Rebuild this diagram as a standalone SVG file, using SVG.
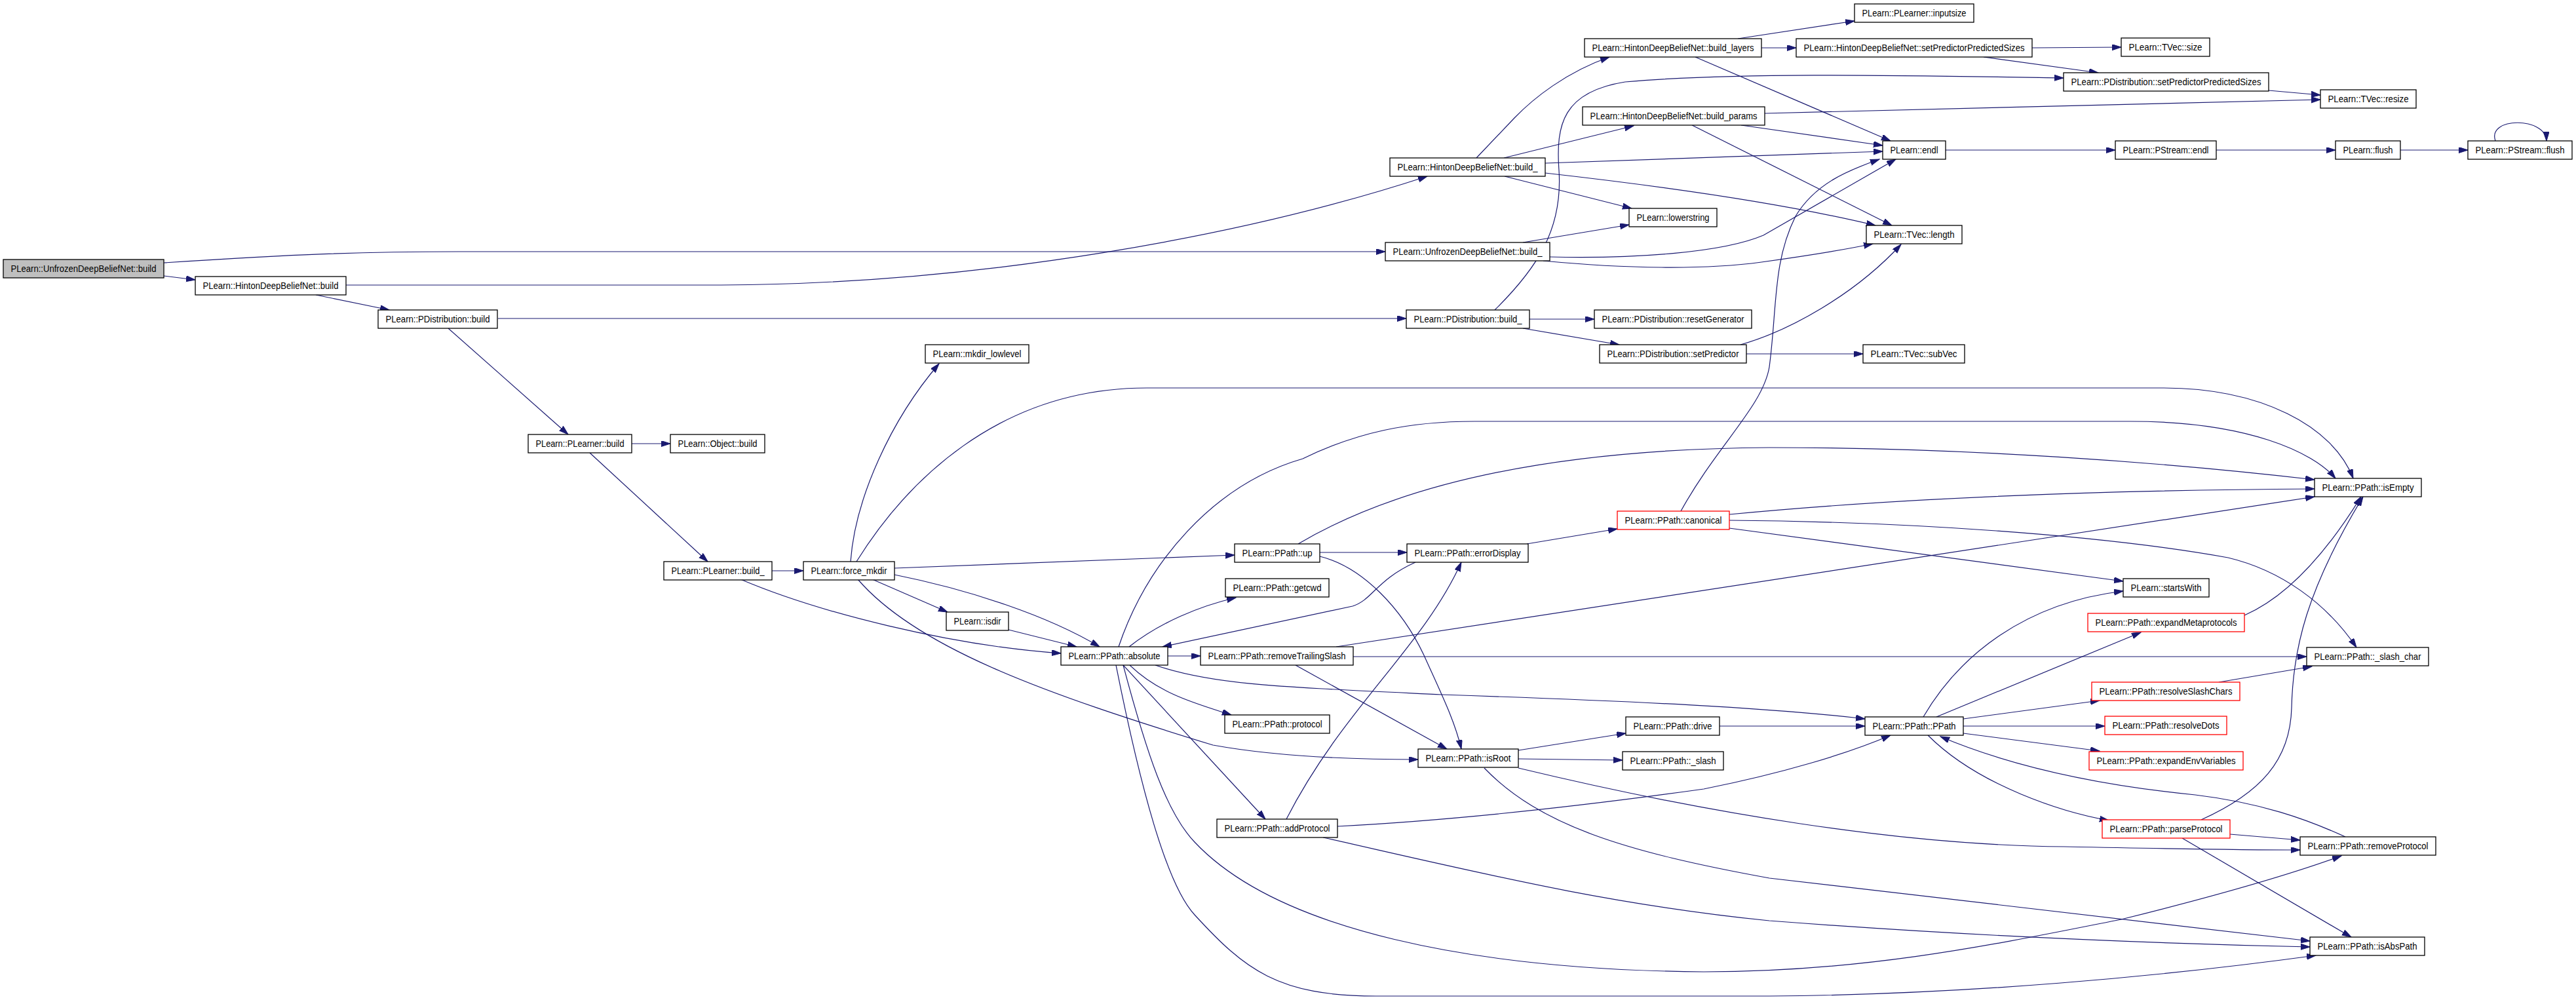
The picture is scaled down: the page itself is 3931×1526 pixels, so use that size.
<svg xmlns="http://www.w3.org/2000/svg" width="3931" height="1526" viewBox="0 0 3931 1526">
<style>
.n rect{fill:#fff;stroke:#000;stroke-width:1.3}
.n.r rect{stroke:#ff0000}
.n.g rect{fill:#bfbfbf}
.n text{font-family:"Liberation Sans",Arial,sans-serif;font-size:15px;fill:#000;text-anchor:middle}
#edges path{fill:none;stroke:#191970;stroke-width:1.2;marker-end:url(#a)}
</style>
<defs>
<marker id="a" markerWidth="16" markerHeight="12" refX="14" refY="4.5" orient="auto" markerUnits="userSpaceOnUse"><path d="M0,0 L14,4.5 L0,9 z" fill="#191970" stroke="#191970" stroke-width="1"/></marker>
</defs>
<rect width="3931" height="1526" fill="#fff"/>
<g id="edges">
<path d="M250,421 L298,427"/>
<path d="M250,401 C450,388 550,384 700,384 L2114,384"/>
<path d="M528,435 L1100,435 C1500,433 1900,360 2178,269"/>
<path d="M482,450 L594,473"/>
<path d="M760,486 L2146,486"/>
<path d="M684,501 L867,663"/>
<path d="M964,677 L1023,677"/>
<path d="M900,691 L1080,857"/>
<path d="M1178,871 L1226,871"/>
<path d="M1130,884 C1250,935 1450,985 1619,997"/>
<path d="M1298,857 C1305,760 1360,640 1433,555"/>
<path d="M1307,857 C1380,740 1520,592 1750,592 L3300,592 C3450,592 3560,650 3591,730"/>
<path d="M1365,867 L1884,847"/>
<path d="M1331,884 L1446,934"/>
<path d="M1365,877 C1480,900 1600,940 1678,987"/>
<path d="M1309,884 C1400,990 1600,1060 1851,1137 C1950,1155 2060,1159 2164,1159"/>
<path d="M1539,961 L1643,987"/>
<path d="M1723,987 C1770,950 1830,925 1886,912"/>
<path d="M1782,1001 L1832,1001"/>
<path d="M1724,1015 C1770,1060 1830,1075 1879,1091"/>
<path d="M1714,1015 L1931,1250"/>
<path d="M1707,987 C1750,860 1850,740 1988,700 C2070,660 2150,643 2250,643 L3250,643 C3430,643 3530,690 3564,730"/>
<path d="M1763,1015 C1850,1045 1950,1048 2200,1060 C2500,1070 2700,1080 2846,1097"/>
<path d="M1714,1015 C1750,1150 1780,1240 1823,1285 C1950,1420 2250,1480 2600,1483 C2850,1483 3050,1440 3237,1403 C3350,1375 3480,1340 3573,1306"/>
<path d="M1703,1015 C1740,1200 1780,1350 1823,1396 C1900,1480 1950,1520 2100,1520 L2700,1520 C3000,1518 3300,1490 3534,1458"/>
<path d="M2160,858 C2100,885 2095,915 2064,925 L1774,987"/>
<path d="M2014,843 L2147,843"/>
<path d="M2014,849 C2080,865 2140,930 2173,1000 C2200,1060 2220,1100 2230,1143"/>
<path d="M1981,830 C2150,730 2400,685 2700,683 C3000,683 3300,705 3532,732"/>
<path d="M2039,987 L3532,758"/>
<path d="M2065,1002 L3520,1002"/>
<path d="M1977,1015 L2208,1143"/>
<path d="M2330,830 L2468,807"/>
<path d="M2565,780 C2620,680 2690,620 2700,560 C2712,470 2705,400 2740,330 C2770,280 2820,260 2868,243"/>
<path d="M2639,785 C2900,760 3200,748 3532,746"/>
<path d="M2639,806 L3240,887"/>
<path d="M2639,794 C2900,796 3200,815 3400,851 C3480,870 3550,920 3596,988"/>
<path d="M2935,1094 C2990,1000 3090,920 3240,902"/>
<path d="M2955,1094 L3267,965"/>
<path d="M2996,1097 L3204,1069"/>
<path d="M2996,1108 L3212,1108"/>
<path d="M2996,1119 L3204,1146"/>
<path d="M2942,1122 C3020,1200 3150,1240 3218,1252"/>
<path d="M3579,1277 C3520,1250 3450,1225 3350,1213 C3200,1198 3070,1170 2961,1124"/>
<path d="M3403,1273 L3510,1282"/>
<path d="M3330,1279 L3588,1430"/>
<path d="M3359,1251 C3450,1210 3495,1160 3497,1080 C3499,990 3520,900 3606,758"/>
<path d="M3425,939 C3480,915 3540,860 3603,758"/>
<path d="M3386,1041 L3528,1017"/>
<path d="M2624,1108 L2846,1108"/>
<path d="M2317,1145 L2481,1119"/>
<path d="M2317,1158 L2476,1160"/>
<path d="M2317,1172 C2600,1240 2900,1290 3150,1292 C3300,1295 3420,1297 3510,1297"/>
<path d="M2265,1172 C2350,1260 2480,1300 2700,1340 C2900,1365 3200,1400 3525,1436"/>
<path d="M2041,1261 C2250,1250 2450,1225 2600,1204 C2720,1180 2820,1150 2885,1122"/>
<path d="M2019,1278 C2250,1330 2450,1380 2700,1405 C3000,1428 3300,1440 3525,1445"/>
<path d="M1963,1250 C2050,1080 2170,990 2230,858"/>
<path d="M2253,241 L2311,180 C2340,150 2390,110 2456,87"/>
<path d="M2295,241 L2493,192"/>
<path d="M2358,249 L2873,231"/>
<path d="M2358,264 C2500,280 2700,305 2862,344"/>
<path d="M2296,269 L2490,318"/>
<path d="M2324,370 L2486,343"/>
<path d="M2365,392 C2500,395 2630,385 2691,359 L2893,243"/>
<path d="M2355,398 C2480,410 2600,412 2688,400 C2760,390 2820,380 2858,372"/>
<path d="M2652,59 L2830,32"/>
<path d="M2688,73 L2741,73"/>
<path d="M2587,87 L2885,215"/>
<path d="M3101,73 L3237,72"/>
<path d="M3027,87 L3202,111"/>
<path d="M3462,138 L3541,145"/>
<path d="M2693,173 L3541,152"/>
<path d="M2657,191 L2873,222"/>
<path d="M2582,191 L2887,344"/>
<path d="M2281,473 C2345,410 2385,350 2379,260 C2374,190 2385,140 2480,125 C2650,110 2900,115 3149,119"/>
<path d="M2334,487 L2433,487"/>
<path d="M2324,501 L2471,526"/>
<path d="M2665,540 L2843,540"/>
<path d="M2656,526 C2730,505 2830,450 2901,373"/>
<path d="M2969,229 L3228,229"/>
<path d="M3382,229 L3564,229"/>
<path d="M3663,229 L3766,229"/>
<path d="M3808,215 C3795,178 3885,178 3886,215"/>
</g>
<g id="n1" class="n g"><rect x="5" y="396" width="245" height="28"/><text x="127.5" y="415" textLength="222" lengthAdjust="spacingAndGlyphs">PLearn::UnfrozenDeepBeliefNet::build</text></g>
<g id="n2" class="n"><rect x="298" y="422" width="230" height="28"/><text x="413" y="441" textLength="207" lengthAdjust="spacingAndGlyphs">PLearn::HintonDeepBeliefNet::build</text></g>
<g id="n3" class="n"><rect x="577" y="473" width="182" height="28"/><text x="668" y="492" textLength="159" lengthAdjust="spacingAndGlyphs">PLearn::PDistribution::build</text></g>
<g id="n4" class="n"><rect x="806" y="663" width="158" height="28"/><text x="885" y="682" textLength="135" lengthAdjust="spacingAndGlyphs">PLearn::PLearner::build</text></g>
<g id="n5" class="n"><rect x="1023" y="663" width="144" height="28"/><text x="1095" y="682" textLength="121" lengthAdjust="spacingAndGlyphs">PLearn::Object::build</text></g>
<g id="n6" class="n"><rect x="1013" y="857" width="165" height="28"/><text x="1095.5" y="876" textLength="142" lengthAdjust="spacingAndGlyphs">PLearn::PLearner::build_</text></g>
<g id="n7" class="n"><rect x="1226" y="857" width="139" height="28"/><text x="1295.5" y="876" textLength="116" lengthAdjust="spacingAndGlyphs">PLearn::force_mkdir</text></g>
<g id="n8" class="n"><rect x="1412" y="526" width="158" height="28"/><text x="1491" y="545" textLength="135" lengthAdjust="spacingAndGlyphs">PLearn::mkdir_lowlevel</text></g>
<g id="n9" class="n"><rect x="1444" y="934" width="95" height="28"/><text x="1491.5" y="953" textLength="72" lengthAdjust="spacingAndGlyphs">PLearn::isdir</text></g>
<g id="n10" class="n"><rect x="1619" y="987" width="163" height="28"/><text x="1700.5" y="1006" textLength="140" lengthAdjust="spacingAndGlyphs">PLearn::PPath::absolute</text></g>
<g id="n11" class="n"><rect x="1884" y="830" width="130" height="28"/><text x="1949" y="849" textLength="107" lengthAdjust="spacingAndGlyphs">PLearn::PPath::up</text></g>
<g id="n12" class="n"><rect x="1870" y="883" width="158" height="28"/><text x="1949" y="902" textLength="135" lengthAdjust="spacingAndGlyphs">PLearn::PPath::getcwd</text></g>
<g id="n13" class="n"><rect x="1832" y="987" width="233" height="28"/><text x="1948.5" y="1006" textLength="210" lengthAdjust="spacingAndGlyphs">PLearn::PPath::removeTrailingSlash</text></g>
<g id="n14" class="n"><rect x="1869" y="1091" width="160" height="28"/><text x="1949" y="1110" textLength="137" lengthAdjust="spacingAndGlyphs">PLearn::PPath::protocol</text></g>
<g id="n15" class="n"><rect x="2164" y="1143" width="153" height="28"/><text x="2240.5" y="1162" textLength="130" lengthAdjust="spacingAndGlyphs">PLearn::PPath::isRoot</text></g>
<g id="n16" class="n"><rect x="1857" y="1250" width="184" height="28"/><text x="1949" y="1269" textLength="161" lengthAdjust="spacingAndGlyphs">PLearn::PPath::addProtocol</text></g>
<g id="n17" class="n"><rect x="2147" y="830" width="185" height="28"/><text x="2239.5" y="849" textLength="162" lengthAdjust="spacingAndGlyphs">PLearn::PPath::errorDisplay</text></g>
<g id="n18" class="n r"><rect x="2468" y="780" width="171" height="28"/><text x="2553.5" y="799" textLength="148" lengthAdjust="spacingAndGlyphs">PLearn::PPath::canonical</text></g>
<g id="n19" class="n"><rect x="2481" y="1094" width="143" height="28"/><text x="2552.5" y="1113" textLength="120" lengthAdjust="spacingAndGlyphs">PLearn::PPath::drive</text></g>
<g id="n20" class="n"><rect x="2476" y="1147" width="154" height="28"/><text x="2553" y="1166" textLength="131" lengthAdjust="spacingAndGlyphs">PLearn::PPath::_slash</text></g>
<g id="n21" class="n"><rect x="2846" y="1094" width="150" height="28"/><text x="2921" y="1113" textLength="127" lengthAdjust="spacingAndGlyphs">PLearn::PPath::PPath</text></g>
<g id="n22" class="n"><rect x="3240" y="883" width="131" height="28"/><text x="3305.5" y="902" textLength="108" lengthAdjust="spacingAndGlyphs">PLearn::startsWith</text></g>
<g id="n23" class="n r"><rect x="3186" y="936" width="239" height="28"/><text x="3305.5" y="955" textLength="216" lengthAdjust="spacingAndGlyphs">PLearn::PPath::expandMetaprotocols</text></g>
<g id="n24" class="n r"><rect x="3192" y="1041" width="226" height="28"/><text x="3305" y="1060" textLength="203" lengthAdjust="spacingAndGlyphs">PLearn::PPath::resolveSlashChars</text></g>
<g id="n25" class="n r"><rect x="3212" y="1093" width="186" height="28"/><text x="3305" y="1112" textLength="163" lengthAdjust="spacingAndGlyphs">PLearn::PPath::resolveDots</text></g>
<g id="n26" class="n r"><rect x="3188" y="1147" width="235" height="28"/><text x="3305.5" y="1166" textLength="212" lengthAdjust="spacingAndGlyphs">PLearn::PPath::expandEnvVariables</text></g>
<g id="n27" class="n r"><rect x="3208" y="1251" width="195" height="28"/><text x="3305.5" y="1270" textLength="172" lengthAdjust="spacingAndGlyphs">PLearn::PPath::parseProtocol</text></g>
<g id="n28" class="n"><rect x="3532" y="730" width="163" height="28"/><text x="3613.5" y="749" textLength="140" lengthAdjust="spacingAndGlyphs">PLearn::PPath::isEmpty</text></g>
<g id="n29" class="n"><rect x="3520" y="988" width="186" height="28"/><text x="3613" y="1007" textLength="163" lengthAdjust="spacingAndGlyphs">PLearn::PPath::_slash_char</text></g>
<g id="n30" class="n"><rect x="3510" y="1277" width="207" height="28"/><text x="3613.5" y="1296" textLength="184" lengthAdjust="spacingAndGlyphs">PLearn::PPath::removeProtocol</text></g>
<g id="n31" class="n"><rect x="3525" y="1430" width="175" height="28"/><text x="3612.5" y="1449" textLength="152" lengthAdjust="spacingAndGlyphs">PLearn::PPath::isAbsPath</text></g>
<g id="n32" class="n"><rect x="2121" y="241" width="237" height="28"/><text x="2239.5" y="260" textLength="214" lengthAdjust="spacingAndGlyphs">PLearn::HintonDeepBeliefNet::build_</text></g>
<g id="n33" class="n"><rect x="2486" y="318" width="134" height="28"/><text x="2553" y="337" textLength="111" lengthAdjust="spacingAndGlyphs">PLearn::lowerstring</text></g>
<g id="n34" class="n"><rect x="2114" y="370" width="251" height="28"/><text x="2239.5" y="389" textLength="228" lengthAdjust="spacingAndGlyphs">PLearn::UnfrozenDeepBeliefNet::build_</text></g>
<g id="n35" class="n"><rect x="2146" y="473" width="188" height="28"/><text x="2240" y="492" textLength="165" lengthAdjust="spacingAndGlyphs">PLearn::PDistribution::build_</text></g>
<g id="n36" class="n"><rect x="2433" y="473" width="240" height="28"/><text x="2553" y="492" textLength="217" lengthAdjust="spacingAndGlyphs">PLearn::PDistribution::resetGenerator</text></g>
<g id="n37" class="n"><rect x="2441" y="526" width="224" height="28"/><text x="2553" y="545" textLength="201" lengthAdjust="spacingAndGlyphs">PLearn::PDistribution::setPredictor</text></g>
<g id="n38" class="n"><rect x="2843" y="526" width="155" height="28"/><text x="2920.5" y="545" textLength="132" lengthAdjust="spacingAndGlyphs">PLearn::TVec::subVec</text></g>
<g id="n39" class="n"><rect x="2873" y="215" width="96" height="28"/><text x="2921" y="234" textLength="73" lengthAdjust="spacingAndGlyphs">PLearn::endl</text></g>
<g id="n40" class="n"><rect x="2848" y="344" width="146" height="28"/><text x="2921" y="363" textLength="123" lengthAdjust="spacingAndGlyphs">PLearn::TVec::length</text></g>
<g id="n41" class="n"><rect x="3228" y="215" width="154" height="28"/><text x="3305" y="234" textLength="131" lengthAdjust="spacingAndGlyphs">PLearn::PStream::endl</text></g>
<g id="n42" class="n"><rect x="3564" y="215" width="99" height="28"/><text x="3613.5" y="234" textLength="76" lengthAdjust="spacingAndGlyphs">PLearn::flush</text></g>
<g id="n43" class="n"><rect x="3766" y="215" width="159" height="28"/><text x="3845.5" y="234" textLength="136" lengthAdjust="spacingAndGlyphs">PLearn::PStream::flush</text></g>
<g id="n44" class="n"><rect x="2418" y="59" width="270" height="28"/><text x="2553" y="78" textLength="247" lengthAdjust="spacingAndGlyphs">PLearn::HintonDeepBeliefNet::build_layers</text></g>
<g id="n45" class="n"><rect x="2415" y="163" width="278" height="28"/><text x="2554" y="182" textLength="255" lengthAdjust="spacingAndGlyphs">PLearn::HintonDeepBeliefNet::build_params</text></g>
<g id="n46" class="n"><rect x="2830" y="6" width="182" height="28"/><text x="2921" y="25" textLength="159" lengthAdjust="spacingAndGlyphs">PLearn::PLearner::inputsize</text></g>
<g id="n47" class="n"><rect x="2741" y="59" width="360" height="28"/><text x="2921" y="78" textLength="337" lengthAdjust="spacingAndGlyphs">PLearn::HintonDeepBeliefNet::setPredictorPredictedSizes</text></g>
<g id="n48" class="n"><rect x="3237" y="58" width="135" height="28"/><text x="3304.5" y="77" textLength="112" lengthAdjust="spacingAndGlyphs">PLearn::TVec::size</text></g>
<g id="n49" class="n"><rect x="3149" y="111" width="313" height="28"/><text x="3305.5" y="130" textLength="290" lengthAdjust="spacingAndGlyphs">PLearn::PDistribution::setPredictorPredictedSizes</text></g>
<g id="n50" class="n"><rect x="3541" y="137" width="146" height="28"/><text x="3614" y="156" textLength="123" lengthAdjust="spacingAndGlyphs">PLearn::TVec::resize</text></g>
</svg>
